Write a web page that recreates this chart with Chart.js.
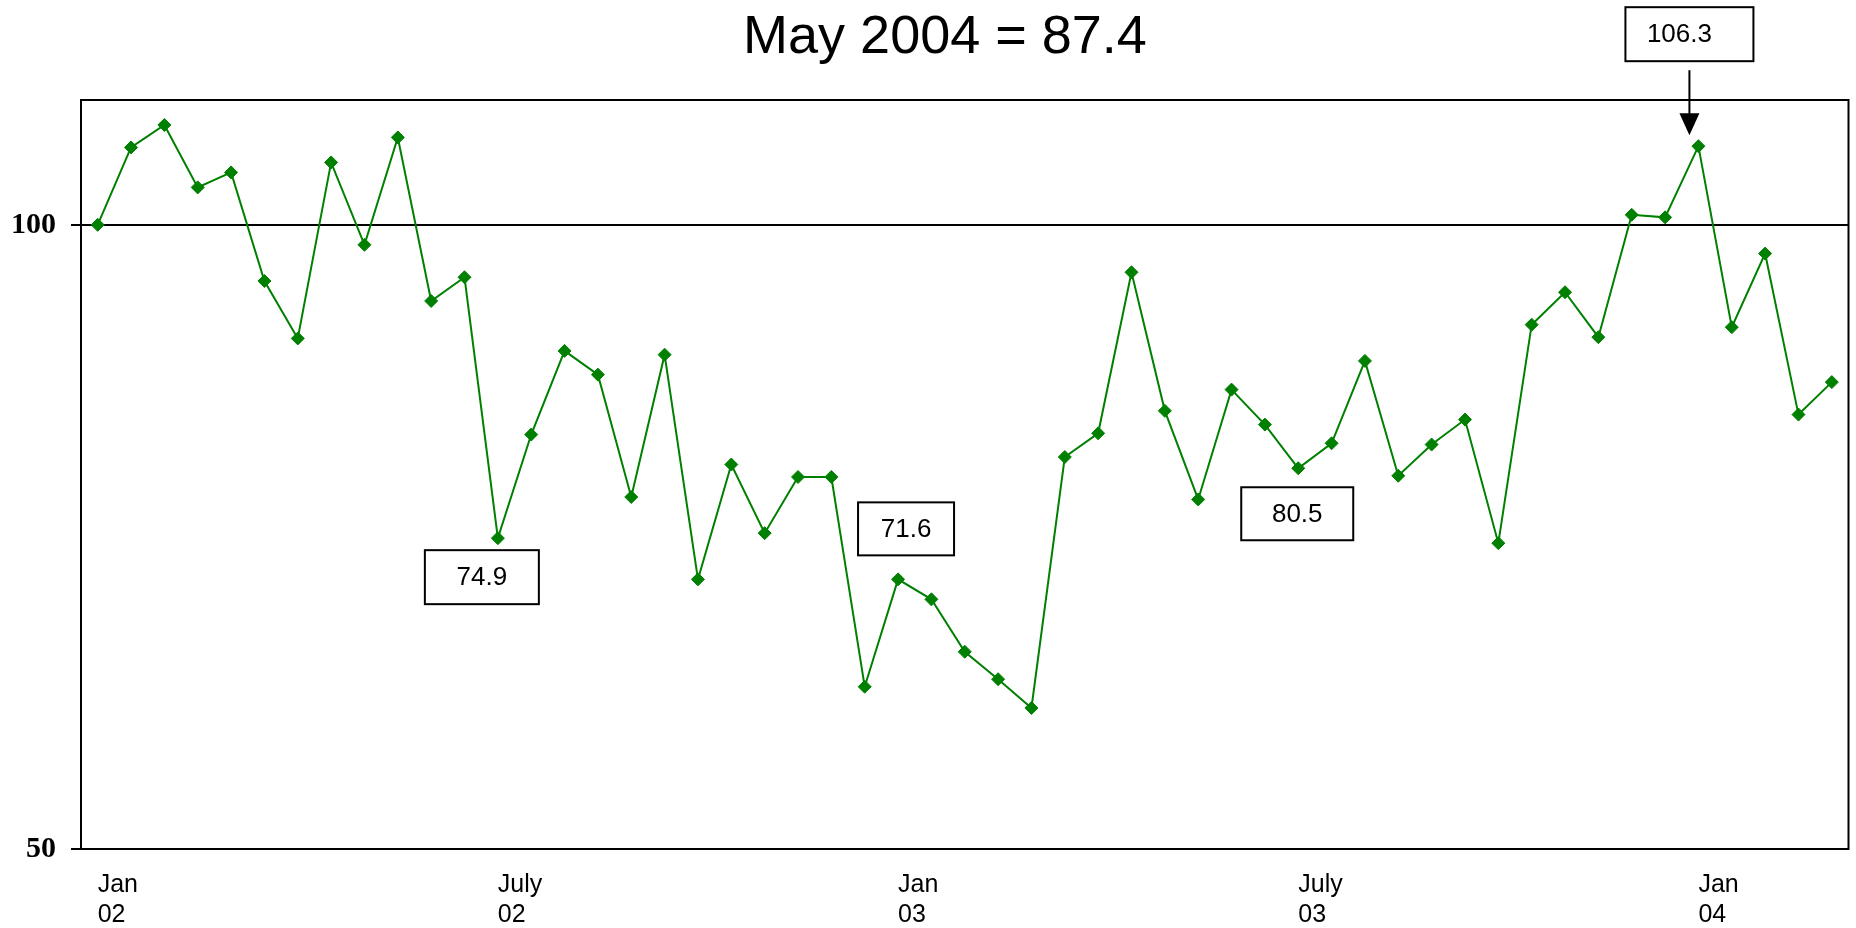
<!DOCTYPE html>
<html>
<head>
<meta charset="utf-8">
<script src="https://cdn.jsdelivr.net/npm/chart.js@4.4.1/dist/chart.umd.min.js"></script>
<style>
    html, body { margin: 0; padding: 0; background: #fff; }
    #wrap { width: 1856px; height: 928px; position: relative; }
</style>
</head>
<body>
<div id="wrap"><canvas id="chart"></canvas></div>
<script>
// Valeurs semi-mensuelles, Jan 02 -> mai 04
const values = [
    100.0, 106.2, 108.0, 103.0, 104.2, 95.5, 90.9, 105.0, 98.4, 107.0, 93.9, 95.8,
    74.9, 83.2, 89.9, 88.0, 78.2, 89.6, 71.6, 80.8, 75.3, 79.8, 79.8, 63.0,
    71.6, 70.0, 65.8, 63.6, 61.3, 81.4, 83.3, 96.2, 85.1, 78.0, 86.8, 84.0,
    80.5, 82.5, 89.1, 79.9, 82.4, 84.4, 74.5, 92.0, 94.6, 91.0, 100.8, 100.6,
    106.3, 91.8, 97.7, 84.8, 87.4
];

const tickIndex = [0, 12, 24, 36, 48];
const tickLabels = [['Jan', '02'], ['July', '02'], ['Jan', '03'], ['July', '03'], ['Jan', '04']];

const yTicks = [50, 100];

const titleText = 'May 2004 = 87.4';

const calloutIndex = [12, 24, 36, 48];
const calloutText = ['74.9', '71.6', '80.5', '106.3'];

// catégories construites à partir des libellés
const categories = values.map((v, i) => {
    const k = tickIndex.indexOf(i);
    return k >= 0 ? tickLabels[k] : '';
});

// position des cadres par rapport au point (dx gauche, dx droite, dy haut, dy bas)
const calloutBoxes = [
    { l: -73, r: 41, t: 12, b: 66 },
    { l: -40, r: 56, t: -77, b: -24 },
    { l: -57, r: 55, t: 19, b: 72 },
    { l: -73, r: 55, t: -139, b: -85, textDx: -10, arrow: true }
];

const decorPlugin = {
    id: 'decor',
    beforeDatasetsDraw(chart) {
        const ctx = chart.ctx;
        const a = chart.chartArea;
        ctx.save();
        ctx.strokeStyle = '#000';
        ctx.lineWidth = 2;
        ctx.strokeRect(a.left, a.top, a.right - a.left, a.bottom - a.top);
        ctx.restore();
    },
    afterDraw(chart) {
        const ctx = chart.ctx;
        const xs = chart.scales.x;
        const ys = chart.scales.y;
        ctx.save();

        // Titre
        ctx.fillStyle = '#000';
        ctx.font = '54px "Liberation Sans", Arial, sans-serif';
        ctx.textAlign = 'center';
        ctx.textBaseline = 'alphabetic';
        ctx.fillText(titleText, 945, 53);

        // Cadres
        ctx.font = '26px "Liberation Sans", Arial, sans-serif';
        ctx.textBaseline = 'middle';
        calloutIndex.forEach((idx, k) => {
            const px = xs.getPixelForValue(idx);
            const py = ys.getPixelForValue(values[idx]);
            const b = calloutBoxes[k];
            const x0 = px + b.l, x1 = px + b.r;
            const y0 = py + b.t, y1 = py + b.b;
            ctx.fillStyle = '#fff';
            ctx.fillRect(x0, y0, x1 - x0, y1 - y0);
            ctx.strokeStyle = '#000';
            ctx.lineWidth = 2;
            ctx.strokeRect(x0, y0, x1 - x0, y1 - y0);
            ctx.fillStyle = '#000';
            ctx.fillText(calloutText[k], (x0 + x1) / 2 + (b.textDx || 0), (y0 + y1) / 2 + 1);

            if (b.arrow) {
                const ax = px - 9;
                ctx.beginPath();
                ctx.moveTo(ax, y1 + 9);
                ctx.lineTo(ax, py - 30);
                ctx.stroke();
                ctx.beginPath();
                ctx.moveTo(ax - 10, py - 33);
                ctx.lineTo(ax + 10, py - 33);
                ctx.lineTo(ax, py - 11);
                ctx.closePath();
                ctx.fill();
            }
        });
        ctx.restore();
    }
};

new Chart(document.getElementById('chart'), {
    type: 'line',
    data: {
        labels: categories,
        datasets: [{
            data: values,
            borderColor: '#008000',
            backgroundColor: '#008000',
            borderWidth: 2,
            pointStyle: 'rectRot',
            pointRadius: 6.5,
            pointBorderWidth: 1,
            pointBorderColor: '#008000',
            pointBackgroundColor: '#008000',
            tension: 0,
            fill: false
        }]
    },
    options: {
        responsive: true,
        maintainAspectRatio: false,
        animation: false,
        events: [],
        layout: { padding: { top: 100, right: 7, bottom: 0, left: 0 } },
        plugins: {
            legend: { display: false },
            title: { display: false },
            tooltip: { enabled: false }
        },
        scales: {
            x: {
                type: 'category',
                offset: true,
                grid: { display: false, drawTicks: false },
                border: { display: false },
                ticks: {
                    autoSkip: false,
                    maxRotation: 0,
                    minRotation: 0,
                    align: 'start',
                    padding: 21,
                    color: '#000',
                    font: { family: '"Liberation Sans", Arial, sans-serif', size: 25, lineHeight: 1.2 }
                },
                afterFit(scale) { scale.height = 79; }
            },
            y: {
                min: 50,
                max: 110,
                afterBuildTicks(scale) {
                    scale.ticks = yTicks.map(v => ({ value: v }));
                },
                grid: {
                    color: '#000',
                    lineWidth: 2,
                    drawTicks: true,
                    tickLength: 10,
                    tickColor: '#000',
                    tickWidth: 2
                },
                border: { display: false },
                ticks: {
                    padding: 15,
                    color: '#000',
                    font: { family: '"Liberation Serif", "Times New Roman", serif', size: 30, weight: 'bold' }
                },
                afterFit(scale) { scale.width = 81; }
            }
        }
    },
    plugins: [decorPlugin]
});
</script>
</body>
</html>
